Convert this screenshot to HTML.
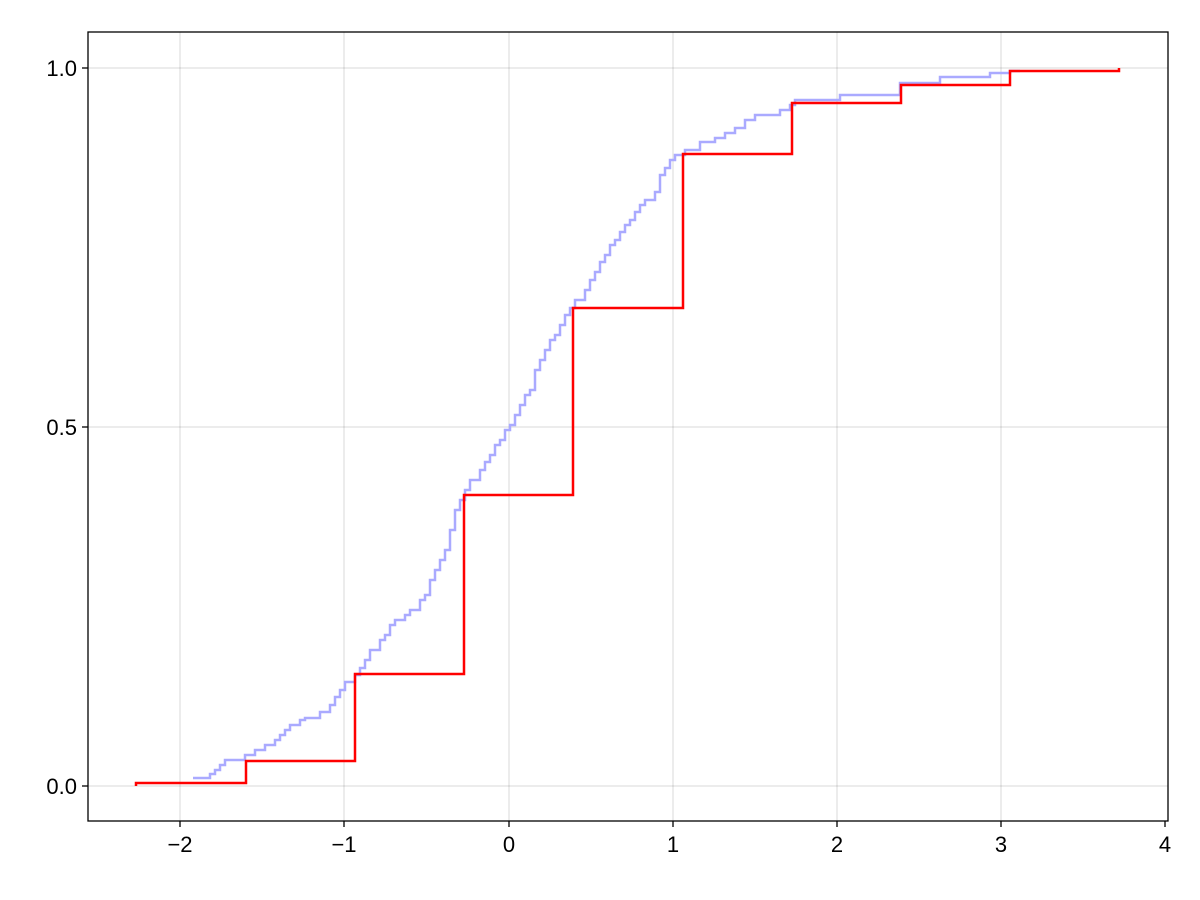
<!DOCTYPE html>
<html><head><meta charset="utf-8"><style>
html,body{margin:0;padding:0;background:#fff;}
svg{display:block;}
text{font-family:"Liberation Sans",sans-serif;font-size:22px;fill:#000;}
</style></head><body>
<svg width="1200" height="900" viewBox="0 0 1200 900">
<rect width="1200" height="900" fill="#fff"/>
<g stroke="#000" stroke-opacity="0.15" stroke-width="1">
<line x1="180" y1="32" x2="180" y2="821"/>
<line x1="344" y1="32" x2="344" y2="821"/>
<line x1="509" y1="32" x2="509" y2="821"/>
<line x1="673" y1="32" x2="673" y2="821"/>
<line x1="837" y1="32" x2="837" y2="821"/>
<line x1="1001" y1="32" x2="1001" y2="821"/>
<line x1="88" y1="786" x2="1168" y2="786"/>
<line x1="88" y1="427" x2="1168" y2="427"/>
<line x1="88" y1="68" x2="1168" y2="68"/>
</g>
<path fill="none" stroke="#aaaaff" stroke-width="2.5" d="M193,778 H210 V774 H215 V770 H220 V765 H225 V760 H245 V755 H255 V750 H265 V745 H275 V740 H280 V735 H285 V730 H290 V725 H300 V720 H305 V718 H320 V712 H330 V705 H335 V697 H340 V690 H345 V682 H355 V675 H360 V668 H365 V660 H370 V650 H380 V640 H385 V635 H390 V625 H395 V620 H405 V615 H410 V610 H420 V600 H425 V595 H430 V580 H435 V570 H440 V560 H445 V550 H450 V530 H455 V510 H460 V500 H465 V490 H470 V480 H480 V470 H485 V462 H490 V455 H495 V445 H500 V440 H505 V430 H510 V425 H515 V415 H520 V405 H525 V395 H530 V390 H535 V370 H540 V360 H545 V350 H550 V340 H555 V335 H560 V325 H565 V315 H570 V308 H575 V300 H585 V290 H590 V280 H595 V272 H600 V262 H605 V255 H610 V245 H615 V240 H620 V232 H625 V225 H630 V220 H635 V212 H640 V205 H645 V200 H655 V192 H660 V175 H665 V168 H670 V160 H675 V155 H685 V150 H700 V142 H715 V138 H725 V133 H735 V128 H745 V120 H755 V115 H780 V110 H790 V105 H795 V100 H840 V95 H900 V83 H940 V77 H990 V73 H1010 V71 H1020"/>
<path fill="none" stroke="#ff0000" stroke-width="2.5" d="M136,786 V783 H246 V761 H355 V674 H464 V495 H573 V308 H683 V154 H792 V103 H901 V85 H1010 V71 H1119 V68"/>
<rect x="88" y="32" width="1080" height="789" fill="none" stroke="#000" stroke-width="1.3"/>
<g stroke="#000" stroke-width="1.3">
<line x1="180" y1="821" x2="180" y2="827"/><line x1="344" y1="821" x2="344" y2="827"/>
<line x1="509" y1="821" x2="509" y2="827"/><line x1="673" y1="821" x2="673" y2="827"/>
<line x1="837" y1="821" x2="837" y2="827"/><line x1="1001" y1="821" x2="1001" y2="827"/>
<line x1="1165" y1="821" x2="1165" y2="827"/>
<line x1="82" y1="786" x2="88" y2="786"/><line x1="82" y1="427" x2="88" y2="427"/><line x1="82" y1="68" x2="88" y2="68"/>
</g>
<g text-anchor="middle">
<text x="180" y="852">−2</text><text x="344" y="852">−1</text><text x="509" y="852">0</text>
<text x="673" y="852">1</text><text x="837" y="852">2</text><text x="1001" y="852">3</text><text x="1165" y="852">4</text>
</g>
<g text-anchor="end">
<text x="77" y="794">0.0</text><text x="77" y="435">0.5</text><text x="77" y="76">1.0</text>
</g>
</svg>
</body></html>
